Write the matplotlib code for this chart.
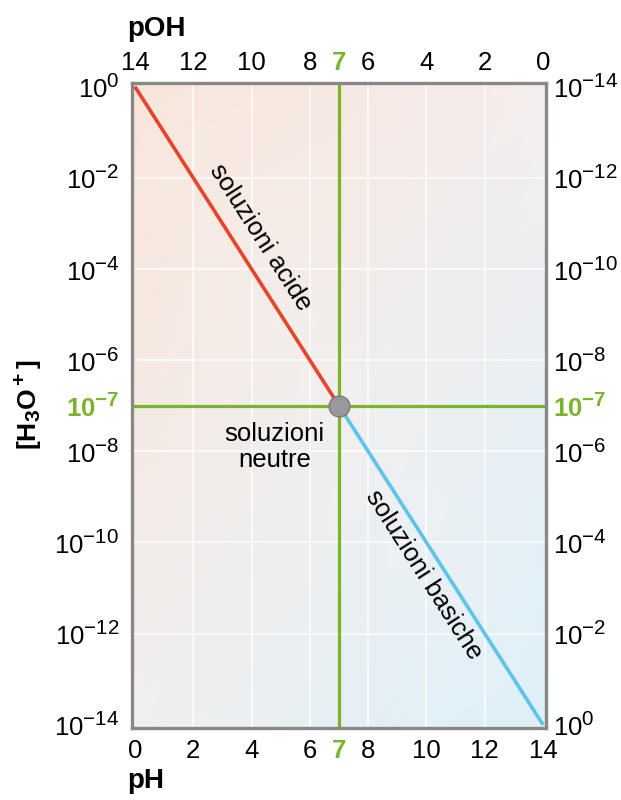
import numpy as np
import matplotlib
matplotlib.use("Agg")
import matplotlib.pyplot as plt
import matplotlib._mathtext as _mt

_mt.SHRINK_FACTOR = 0.8  # larger superscripts, as in the printed figure

plt.rcParams['font.family'] = ['Liberation Sans', 'DejaVu Sans']
plt.rcParams['mathtext.fontset'] = 'custom'
plt.rcParams['mathtext.rm'] = 'Liberation Sans'
plt.rcParams['mathtext.it'] = 'Liberation Sans:italic'
plt.rcParams['mathtext.bf'] = 'Liberation Sans:bold'

# ---- data ----
ph_acid = [0, 7]
h3o_acid = [1e0, 1e-7]
ph_basic = [7, 14]
h3o_basic = [1e-7, 1e-14]
neutral_ph = 7
neutral_h3o = 1e-7

ph_ticks = [0, 2, 4, 6, 7, 8, 10, 12, 14]
ph_labels = ['0', '2', '4', '6', '7', '8', '10', '12', '14']
poh_ticks = [14, 12, 10, 8, 7, 6, 4, 2, 0]
poh_labels = ['14', '12', '10', '8', '7', '6', '4', '2', '0']
h3o_ticks = [1e0, 1e-2, 1e-4, 1e-6, 1e-7, 1e-8, 1e-10, 1e-12, 1e-14]
h3o_labels = [r'$10^{0}$', r'$10^{-2}$', r'$10^{-4}$', r'$10^{-6}$', r'$\mathbf{10^{-7}}$',
              r'$10^{-8}$', r'$10^{-10}$', r'$10^{-12}$', r'$10^{-14}$']
oh_ticks = [1e-14, 1e-12, 1e-10, 1e-8, 1e-7, 1e-6, 1e-4, 1e-2, 1e0]
oh_labels = [r'$10^{-14}$', r'$10^{-12}$', r'$10^{-10}$', r'$10^{-8}$', r'$\mathbf{10^{-7}}$',
             r'$10^{-6}$', r'$10^{-4}$', r'$10^{-2}$', r'$10^{0}$']
grid_ph = [2, 4, 6, 8, 10, 12]
grid_h3o = [1e-2, 1e-4, 1e-6, 1e-8, 1e-10, 1e-12]

GREEN = '#79b52a'
RED = '#e8432b'
BLUE = '#5cc3ea'
TICK_FS = 18.5
TEXT_FS = 18.5

W, H = 621, 800
fig = plt.figure(figsize=(W / 100, H / 100), dpi=100)
L, R, T, B = 132, 546, 83, 728
ax = fig.add_axes([L / W, 1 - B / H, (R - L) / W, (B - T) / H])
ax.set_yscale('log')
ax.set_xlim(-0.1, 14.1)
ax.set_ylim(10 ** -14.07, 10 ** 0.08)

# background gradient (axes coordinates)
n = 200
u = np.linspace(0, 1, n)[None, :]
v = np.linspace(0, 1, n)[:, None]  # 0 bottom, 1 top
tl = np.array([247, 222, 208]) / 255
tr = np.array([245, 238, 238]) / 255
bl = np.array([241, 239, 239]) / 255
br = np.array([212, 236, 248]) / 255
img = (tl[None, None, :] * ((1 - u) * v)[..., None] + tr[None, None, :] * (u * v)[..., None]
       + bl[None, None, :] * ((1 - u) * (1 - v))[..., None] + br[None, None, :] * (u * (1 - v))[..., None])
d = 1 - np.abs((u - (1 - v)))  # 1 on the anti-diagonal
img = img + (1 - img) * 0.25 * d[..., None]
ax.imshow(img, extent=[0, 1, 0, 1], origin='lower', transform=ax.transAxes,
          aspect='auto', zorder=0, interpolation='bilinear')

for g in grid_ph:
    ax.axvline(g, color='white', lw=1.3, alpha=0.75, zorder=1)
for g in grid_h3o:
    ax.axhline(g, color='white', lw=1.3, alpha=0.75, zorder=1)

ax.axvline(neutral_ph, color=GREEN, lw=2.3, zorder=2)
ax.axhline(neutral_h3o, color=GREEN, lw=2.3, zorder=2)
ax.plot(ph_acid, h3o_acid, color=RED, lw=2.6, zorder=3, solid_capstyle='butt')
ax.plot(ph_basic, h3o_basic, color=BLUE, lw=2.6, zorder=3, solid_capstyle='butt')
ax.plot([neutral_ph], [neutral_h3o], 'o', ms=15, color='#9b979a', mec='#7d7a7c', mew=1, zorder=4)

# text along lines
p1 = ax.transData.transform((0, 1e0))
p2 = ax.transData.transform((7, 1e-7))
ang = np.degrees(np.arctan2(p2[1] - p1[1], p2[0] - p1[0]))
ax.text(4.3, 10 ** -3.3, 'soluzioni acide', rotation=ang, rotation_mode='anchor',
        ha='center', va='center', fontsize=TEXT_FS, zorder=5)
ax.text(9.9, 10 ** -10.7, 'soluzioni basiche', rotation=ang, rotation_mode='anchor',
        ha='center', va='center', fontsize=TEXT_FS, zorder=5)
ax.text(4.8, 10 ** -7.9, 'soluzioni\nneutre', ha='center', va='center', fontsize=TEXT_FS,
        linespacing=1.1, zorder=5)

# bottom axis (pH)
ax.set_xticks(ph_ticks)
ax.set_xticklabels(ph_labels, fontsize=TICK_FS)
ax.set_yticks(h3o_ticks)
ax.set_yticklabels(h3o_labels, fontsize=TICK_FS)
ax.yaxis.set_minor_locator(matplotlib.ticker.NullLocator())
ax.tick_params(axis='x', length=0, pad=8)
ax.tick_params(axis='y', length=0, pad=9)
for lab in ax.get_xticklabels():
    if lab.get_text() == '7':
        lab.set_color(GREEN)
        lab.set_fontweight('bold')
for lab in ax.get_yticklabels():
    if '7' in lab.get_text():
        lab.set_color(GREEN)
for s in ax.spines.values():
    s.set_color('#8a8788')
    s.set_linewidth(2.4)
    s.set_zorder(6)

# right axis ([OH-])
axr = ax.twinx()
axr.set_yscale('log')
axr.set_ylim(10 ** 0.07, 10 ** -14.08)
axr.set_yticks(oh_ticks)
axr.set_yticklabels(oh_labels, fontsize=TICK_FS)
axr.yaxis.set_minor_locator(matplotlib.ticker.NullLocator())
axr.tick_params(axis='y', length=0, pad=5)
for lab in axr.get_yticklabels():
    if '7' in lab.get_text():
        lab.set_color(GREEN)
for s in axr.spines.values():
    s.set_visible(False)

# top axis (pOH)
axt = ax.twiny()
axt.set_xlim(14.1, -0.1)
axt.set_xticks(poh_ticks)
axt.set_xticklabels(poh_labels, fontsize=TICK_FS)
axt.tick_params(axis='x', length=0, pad=6)
for lab in axt.get_xticklabels():
    if lab.get_text() == '7':
        lab.set_color(GREEN)
        lab.set_fontweight('bold')
for s in axt.spines.values():
    s.set_visible(False)

fig.text(127 / W, 1 - 29 / H, 'pOH', fontsize=20, fontweight='bold', ha='left', va='center')
fig.text(127 / W, 1 - 781 / H, 'pH', fontsize=20, fontweight='bold', ha='left', va='center')
fig.text(29 / W, 1 - 405 / H, r'$\mathbf{[H_3O^+]}$', fontsize=19, rotation=90,
         ha='center', va='center')

fig.savefig('out.png', dpi=100)
